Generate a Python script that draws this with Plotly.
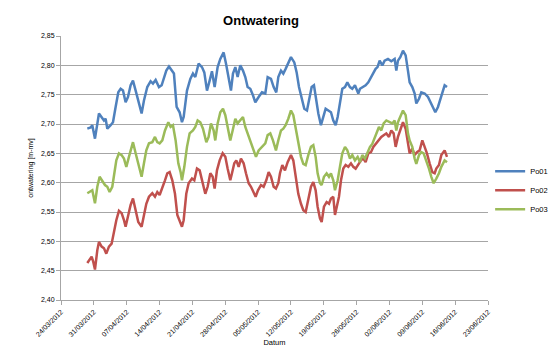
import pandas as pd
import plotly.graph_objects as go

# ---- data (days after 24/03/2012 00:00, water level in m-mv) ----
start_date = "2012-03-24"

days_po01 = [5.61, 6.32, 6.67, 7.24, 8.09, 8.66, 9.16, 9.51, 9.87, 10.58, 11.08, 11.64, 12.21, 12.71,
             13.21, 13.77, 14.27, 14.84, 15.34, 15.91, 16.62, 17.18, 17.68, 18.39, 19.10, 19.60, 20.17,
             20.88, 21.45, 21.94, 22.44, 23.01, 23.58, 24.07, 24.64, 25.28, 25.78, 26.14, 26.85, 27.56,
             28.12, 28.62, 29.33, 30.04, 30.54, 31.11, 31.68, 32.17, 32.74, 33.38, 33.95, 34.66, 35.16,
             35.73, 36.22, 36.65, 37.15, 37.64, 38.21, 38.78, 39.28, 39.77, 40.34, 40.91, 41.41, 42.12,
             42.83, 43.54, 44.04, 44.75, 45.32, 45.88, 46.31, 46.88, 47.38, 47.87, 48.44, 49.01, 49.72,
             50.22, 50.72, 51.28, 51.85, 52.42, 52.85, 53.42, 53.91, 54.27, 54.84, 55.40, 55.90, 56.40,
             56.97, 57.53, 58.03, 58.53, 58.96, 59.45, 59.95, 60.52, 61.02, 61.58, 62.08, 62.65, 63.36,
             63.72, 64.43, 64.92, 65.49, 66.06, 66.56, 67.05, 67.45, 67.91, 68.48, 68.97, 69.68, 70.39,
             71.10, 71.46, 71.81, 72.31, 72.88, 73.45, 73.94, 74.30, 74.87, 75.37, 75.72, 76.29, 76.79,
             77.50, 78.21, 78.70, 79.27, 79.77, 80.34, 81.05, 81.76, 82.26]
po01 = [2.692, 2.694, 2.698, 2.675, 2.718, 2.712, 2.706, 2.709, 2.692, 2.698, 2.703, 2.729, 2.754, 2.760,
        2.757, 2.737, 2.746, 2.766, 2.774, 2.757, 2.732, 2.718, 2.740, 2.763, 2.773, 2.769, 2.775,
        2.763, 2.766, 2.780, 2.791, 2.798, 2.791, 2.786, 2.729, 2.720, 2.703, 2.712, 2.757, 2.777,
        2.786, 2.780, 2.803, 2.797, 2.788, 2.757, 2.774, 2.790, 2.763, 2.797, 2.811, 2.822, 2.803,
        2.774, 2.757, 2.786, 2.797, 2.780, 2.800, 2.791, 2.780, 2.763, 2.760, 2.749, 2.737, 2.746,
        2.754, 2.752, 2.780, 2.777, 2.763, 2.754, 2.780, 2.791, 2.786, 2.794, 2.803, 2.814, 2.805,
        2.788, 2.763, 2.743, 2.726, 2.723, 2.743, 2.763, 2.766, 2.746, 2.718, 2.698, 2.712, 2.726,
        2.723, 2.720, 2.706, 2.698, 2.712, 2.734, 2.760, 2.763, 2.771, 2.763, 2.760, 2.766, 2.752,
        2.760, 2.763, 2.766, 2.771, 2.780, 2.788, 2.794, 2.797, 2.808, 2.800, 2.808, 2.811, 2.807,
        2.811, 2.791, 2.808, 2.814, 2.825, 2.817, 2.791, 2.771, 2.763, 2.752, 2.735, 2.743, 2.754,
        2.752, 2.746, 2.737, 2.729, 2.720, 2.729, 2.749, 2.766, 2.763]

days_po02 = [5.61, 6.10, 6.53, 6.88, 7.24, 7.74, 8.09, 8.66, 9.16, 9.65, 10.22, 10.79, 11.29, 11.79,
             12.35, 12.92, 13.42, 13.77, 14.34, 14.84, 15.34, 15.91, 16.47, 17.18, 17.68, 18.18, 18.75,
             19.46, 20.03, 20.52, 21.02, 21.59, 22.16, 22.65, 23.15, 23.72, 24.29, 24.79, 25.28, 25.78,
             26.14, 26.70, 27.20, 27.91, 28.41, 28.98, 29.55, 30.04, 30.75, 31.25, 31.82, 32.32, 32.74,
             33.24, 33.81, 34.45, 35.02, 35.51, 36.08, 36.44, 36.93, 37.36, 37.86, 38.35, 38.92, 39.42,
             39.99, 40.49, 41.05, 41.48, 41.98, 42.62, 43.18, 43.75, 44.25, 44.75, 45.32, 45.81, 46.31,
             46.67, 47.16, 47.73, 48.30, 49.01, 49.51, 50.00, 50.57, 51.14, 51.64, 52.14, 52.70, 53.27,
             53.77, 54.27, 54.69, 55.19, 55.55, 56.04, 56.61, 57.11, 57.53, 58.03, 58.39, 58.74, 59.24,
             59.67, 60.16, 60.66, 61.23, 61.80, 62.29, 62.79, 63.36, 63.93, 64.43, 64.92, 65.49, 66.06,
             66.56, 67.05, 67.45, 67.76, 68.26, 68.76, 69.33, 69.90, 70.39, 70.89, 71.32, 71.81, 72.31,
             72.88, 73.45, 73.94, 74.30, 74.87, 75.37, 75.86, 76.43, 77.00, 77.50, 77.99, 78.56, 79.13,
             79.63, 79.98, 80.55, 81.05, 81.76, 82.26]
po02 = [2.463, 2.468, 2.474, 2.465, 2.452, 2.485, 2.499, 2.491, 2.488, 2.479, 2.491, 2.496, 2.519, 2.536,
        2.552, 2.548, 2.536, 2.525, 2.545, 2.562, 2.573, 2.553, 2.533, 2.525, 2.542, 2.564, 2.576,
        2.582, 2.576, 2.584, 2.579, 2.590, 2.604, 2.616, 2.618, 2.604, 2.581, 2.545, 2.536, 2.525,
        2.536, 2.581, 2.599, 2.607, 2.604, 2.624, 2.621, 2.604, 2.581, 2.593, 2.616, 2.610, 2.590,
        2.621, 2.638, 2.650, 2.644, 2.624, 2.604, 2.616, 2.633, 2.638, 2.627, 2.641, 2.633, 2.616,
        2.599, 2.593, 2.584, 2.576, 2.587, 2.596, 2.593, 2.604, 2.618, 2.610, 2.593, 2.590, 2.599,
        2.616, 2.630, 2.621, 2.635, 2.647, 2.638, 2.610, 2.581, 2.564, 2.553, 2.550, 2.570, 2.593,
        2.601, 2.587, 2.559, 2.539, 2.533, 2.559, 2.567, 2.564, 2.573, 2.576, 2.545, 2.556, 2.576,
        2.604, 2.624, 2.630, 2.627, 2.633, 2.627, 2.624, 2.630, 2.638, 2.641, 2.635, 2.650, 2.652,
        2.661, 2.666, 2.669, 2.672, 2.678, 2.681, 2.684, 2.678, 2.689, 2.684, 2.661, 2.678, 2.689,
        2.703, 2.692, 2.666, 2.650, 2.658, 2.647, 2.652, 2.655, 2.672, 2.661, 2.650, 2.633, 2.618,
        2.616, 2.624, 2.630, 2.647, 2.655, 2.644]

days_po03 = [5.61, 6.10, 6.67, 7.24, 7.74, 8.23, 8.80, 9.37, 9.87, 10.36, 10.93, 11.29, 11.79, 12.35,
             12.92, 13.42, 13.92, 14.48, 15.05, 15.34, 15.91, 16.47, 17.18, 17.68, 18.18, 18.75, 19.46,
             20.03, 20.52, 21.02, 21.59, 22.16, 22.87, 23.36, 23.86, 24.43, 25.00, 25.49, 25.78, 26.28,
             26.85, 27.41, 28.12, 28.62, 29.12, 29.69, 30.26, 30.97, 31.46, 31.96, 32.53, 32.88, 33.38,
             33.95, 34.52, 35.02, 35.51, 36.08, 36.58, 37.15, 37.64, 38.21, 38.78, 39.28, 39.99, 40.49,
             41.05, 41.55, 42.12, 42.83, 43.54, 44.04, 44.61, 45.17, 45.81, 46.31, 46.88, 47.38, 47.87,
             48.44, 49.01, 49.51, 50.00, 50.57, 51.14, 51.64, 52.14, 52.70, 53.27, 53.77, 54.27, 54.69,
             55.19, 55.55, 56.04, 56.61, 57.11, 57.53, 58.03, 58.39, 58.96, 59.45, 59.95, 60.52, 61.02,
             61.58, 62.08, 62.65, 63.22, 63.72, 64.21, 64.78, 65.35, 65.85, 66.34, 66.91, 67.20, 67.76,
             68.26, 68.76, 69.33, 70.04, 70.61, 71.10, 71.46, 71.81, 72.31, 72.88, 73.45, 73.94, 74.30,
             74.87, 75.37, 75.72, 76.29, 76.79, 77.28, 77.85, 78.42, 78.92, 79.41, 79.98, 80.55, 81.05,
             81.76, 82.26]
po03 = [2.582, 2.584, 2.587, 2.565, 2.593, 2.610, 2.604, 2.596, 2.593, 2.584, 2.593, 2.616, 2.638, 2.650,
        2.647, 2.641, 2.627, 2.644, 2.661, 2.669, 2.650, 2.630, 2.610, 2.633, 2.655, 2.667, 2.669,
        2.678, 2.669, 2.667, 2.672, 2.689, 2.703, 2.695, 2.698, 2.672, 2.633, 2.618, 2.604, 2.627,
        2.661, 2.684, 2.689, 2.695, 2.706, 2.703, 2.692, 2.669, 2.678, 2.701, 2.689, 2.672, 2.701,
        2.720, 2.726, 2.715, 2.692, 2.672, 2.689, 2.709, 2.701, 2.706, 2.712, 2.695, 2.678, 2.667,
        2.655, 2.644, 2.655, 2.661, 2.667, 2.681, 2.684, 2.672, 2.655, 2.672, 2.689, 2.692, 2.698,
        2.709, 2.723, 2.715, 2.695, 2.667, 2.644, 2.632, 2.630, 2.647, 2.661, 2.664, 2.644, 2.616,
        2.599, 2.596, 2.610, 2.616, 2.610, 2.616, 2.604, 2.587, 2.604, 2.627, 2.650, 2.661, 2.655,
        2.641, 2.647, 2.638, 2.644, 2.635, 2.647, 2.641, 2.652, 2.661, 2.666, 2.678, 2.681, 2.695,
        2.689, 2.701, 2.706, 2.703, 2.701, 2.706, 2.689, 2.703, 2.712, 2.723, 2.715, 2.684, 2.672,
        2.661, 2.641, 2.632, 2.647, 2.652, 2.650, 2.638, 2.624, 2.610, 2.599, 2.607, 2.616, 2.627,
        2.638, 2.635]

series_names = ["Po01", "Po02", "Po03"]
series_colors = ["#4F81BD", "#C0504D", "#9BBB59"]

x_tick_start = "2012-03-24"
x_range_end = "2012-06-23"
y_min, y_max, y_step = 2.40, 2.85, 0.05

# ---- figure ----
base = pd.Timestamp(start_date)
def to_dates(days):
    return base + pd.to_timedelta(days, unit="D")

fig = go.Figure()
for name, color, d, v in zip(series_names, series_colors,
                             [days_po01, days_po02, days_po03], [po01, po02, po03]):
    fig.add_trace(go.Scatter(x=to_dates(d), y=v, mode="lines", name=name,
                             line=dict(color=color, width=2.5)))

# the page body adds an 8px margin, so the figure is 8px smaller than the window
W, H = 550, 348
FONT = "Liberation Sans"
fig.update_layout(
    width=W, height=H,
    margin=dict(l=53, r=70, t=27.5, b=56, autoexpand=False),
    paper_bgcolor="white", plot_bgcolor="white",
    separators=",.",
    font=dict(family=FONT, size=7, color="#000000"),
    title=dict(text="<b>Ontwatering</b>", x=253 / W, xref="container", xanchor="center",
               y=1 - 12 / H, yref="container", yanchor="middle",
               font=dict(family=FONT, size=13)),
    showlegend=True,
    legend=dict(x=1.005, xanchor="left", y=0.416, yanchor="middle",
                font=dict(family=FONT, size=7.5), itemwidth=30,
                tracegroupgap=0, bgcolor="rgba(0,0,0,0)"),
)
fig.update_xaxes(
    type="date", range=[x_tick_start, x_range_end], automargin=False,
    tick0=x_tick_start, dtick=7 * 86400000, tickformat="%d/%m/%Y", tickangle=-45,
    showgrid=False, showline=True, linecolor="#A6A6A6", linewidth=1,
    ticks="outside", ticklen=4, tickcolor="#A6A6A6",
    tickfont=dict(size=7), title=dict(text="Datum", font=dict(size=7.5), standoff=2),
    zeroline=False,
)
fig.update_yaxes(
    range=[y_min, y_max], dtick=y_step, tick0=y_min, tickformat=".2f", automargin=False,
    showgrid=True, gridcolor="#A6A6A6", gridwidth=1,
    showline=True, linecolor="#A6A6A6", linewidth=1,
    ticks="outside", ticklen=4, tickcolor="#A6A6A6",
    tickfont=dict(size=7), title=dict(text="ontwatering [m-mv]", font=dict(size=7), standoff=6),
    zeroline=False,
)

fig.write_html("out.html")
